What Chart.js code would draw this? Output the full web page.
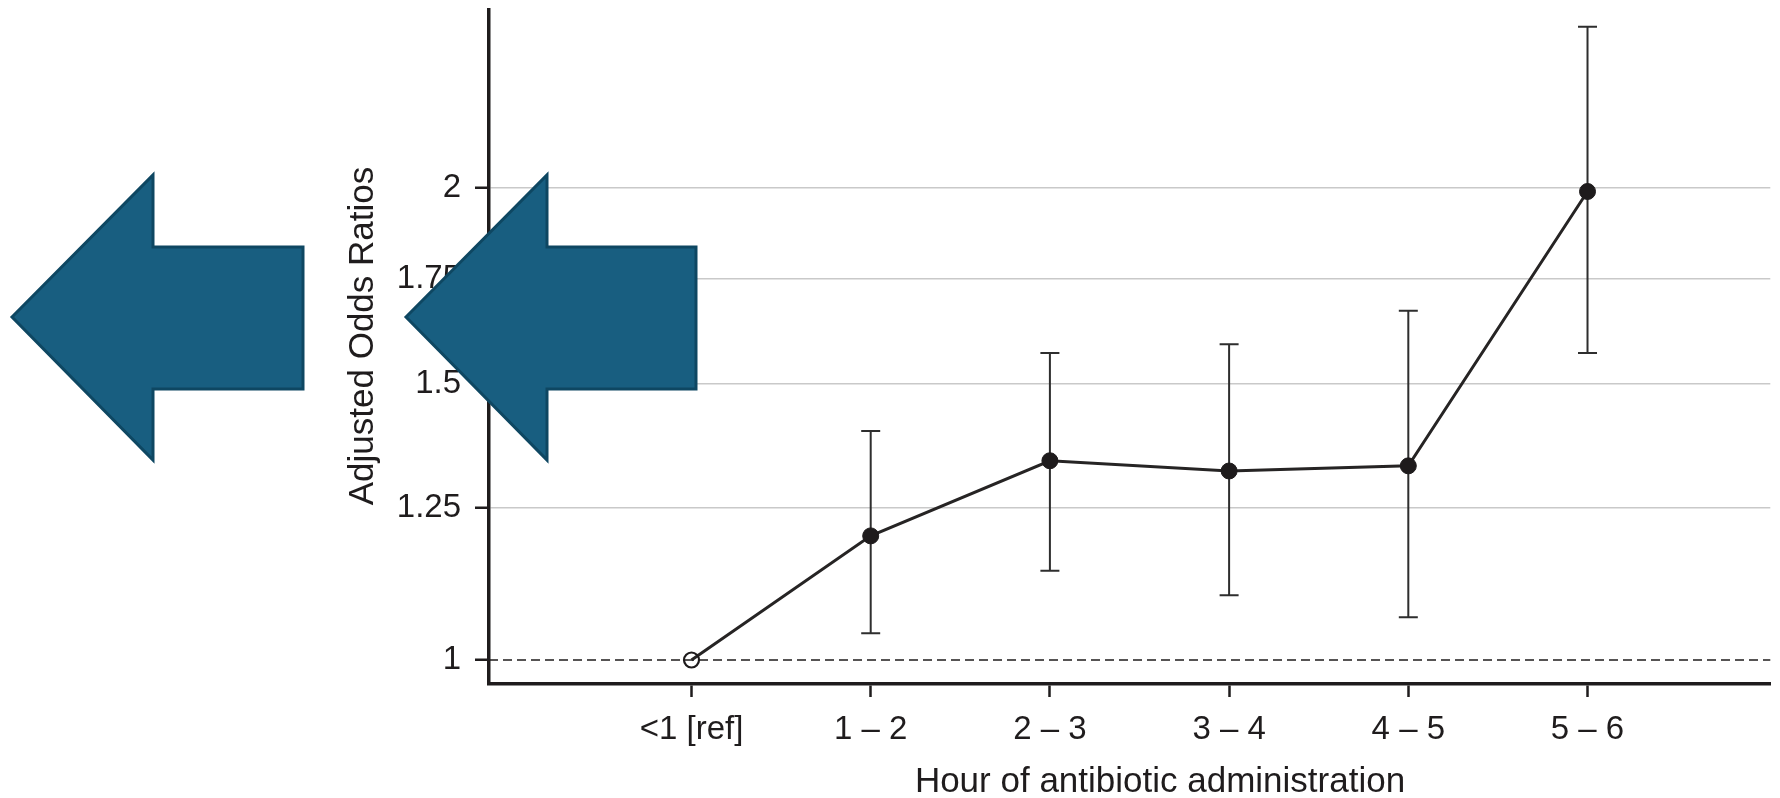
<!DOCTYPE html>
<html>
<head>
<meta charset="utf-8">
<title>Adjusted Odds Ratios by hour of antibiotic administration</title>
<script src="https://cdn.jsdelivr.net/npm/chart.js@4.4.1/dist/chart.umd.min.js"></script>
<style>
  html, body { margin: 0; padding: 0; background: #fff; overflow: hidden; }
  .chart-box { position: relative; width: 1780px; height: 798px; }
</style>
</head>
<body>
<div class="chart-box"><canvas id="oddsChart"></canvas></div>
<script>
const hours = ['<1 [ref]', '1 – 2', '2 – 3', '3 – 4', '4 – 5', '5 – 6'];
const oddsRatios = [1, 1.2, 1.34, 1.32, 1.33, 1.99];
const ciLower = [null, 1.04, 1.14, 1.1, 1.065, 1.57];
const ciUpper = [null, 1.4, 1.57, 1.59, 1.67, 2.535];
const yTicks = [1, 1.25, 1.5, 1.75, 2];

const INK = '#1f1c1d';
const FONT = "'Liberation Sans', Arial, sans-serif";

// whiskers and the dashed OR = 1 line, under the points
const errorBars = {
  id: 'errorBars',
  beforeDatasetsDraw(chart) {
    const { ctx, chartArea, scales: { x, y } } = chart;
    ctx.save();
    const y1 = y.getPixelForValue(1);
    ctx.strokeStyle = INK;
    ctx.lineWidth = 1.5;
    ctx.setLineDash([9, 5]);
    ctx.beginPath();
    ctx.moveTo(chartArea.left, y1);
    ctx.lineTo(chartArea.right, y1);
    ctx.stroke();
    ctx.setLineDash([]);

    ctx.strokeStyle = '#2e2e2e';
    ctx.lineWidth = 2;
    hours.forEach((_, i) => {
      if (ciLower[i] == null) return;
      const px = x.getPixelForValue(i);
      const lo = y.getPixelForValue(ciLower[i]);
      const hi = y.getPixelForValue(ciUpper[i]);
      ctx.beginPath();
      ctx.moveTo(px, lo);
      ctx.lineTo(px, hi);
      ctx.moveTo(px - 9.5, lo);
      ctx.lineTo(px + 9.5, lo);
      ctx.moveTo(px - 9.5, hi);
      ctx.lineTo(px + 9.5, hi);
      ctx.stroke();
    });
    ctx.restore();
  },
};

const axisTitles = {
  id: 'axisTitles',
  afterDraw(chart) {
    const { ctx } = chart;
    ctx.save();
    ctx.fillStyle = INK;
    ctx.font = `35px ${FONT}`;
    ctx.textAlign = 'center';
    ctx.textBaseline = 'alphabetic';
    ctx.fillText('Hour of antibiotic administration', 1160, 792);
    ctx.translate(373, 336);
    ctx.rotate(-Math.PI / 2);
    ctx.fillText('Adjusted Odds Ratios', 0, 0);
    ctx.restore();
  },
};

// the two blue arrows pasted over the left side
const arrows = {
  id: 'arrows',
  afterDraw(chart) {
    const { ctx } = chart;
    const shapes = [
      { tip: 12, head: 153, tail: 303 },
      { tip: 406, head: 547, tail: 696 },
    ];
    ctx.save();
    ctx.fillStyle = '#185e80';
    ctx.strokeStyle = '#0e4762';
    ctx.lineWidth = 3;
    ctx.lineJoin = 'miter';
    shapes.forEach((a) => {
      ctx.beginPath();
      ctx.moveTo(a.tip, 317);
      ctx.lineTo(a.head, 175);
      ctx.lineTo(a.head, 247);
      ctx.lineTo(a.tail, 247);
      ctx.lineTo(a.tail, 389);
      ctx.lineTo(a.head, 389);
      ctx.lineTo(a.head, 460);
      ctx.closePath();
      ctx.fill();
      ctx.stroke();
    });
    ctx.restore();
  },
};

new Chart(document.getElementById('oddsChart'), {
  type: 'line',
  data: {
    datasets: [
      {
        data: oddsRatios.map((v, i) => ({ x: i, y: v })),
        borderColor: '#262424',
        borderWidth: 3,
        tension: 0,
        pointRadius: oddsRatios.map((_, i) => (i === 0 ? 7.5 : 8)),
        pointBorderWidth: oddsRatios.map((_, i) => (i === 0 ? 2.2 : 1)),
        pointBackgroundColor: oddsRatios.map((_, i) => (i === 0 ? 'rgba(0,0,0,0)' : '#1e1b1c')),
        pointBorderColor: '#1e1b1c',
        clip: false,
      },
    ],
  },
  options: {
    responsive: true,
    maintainAspectRatio: false,
    animation: false,
    events: [],
    layout: { padding: { top: 8, left: 0, right: 0, bottom: 0 } },
    plugins: { legend: { display: false }, tooltip: { enabled: false } },
    scales: {
      x: {
        type: 'linear',
        min: -1.13,
        max: 6.02,
        afterBuildTicks: (scale) => {
          scale.ticks = hours.map((_, i) => ({ value: i }));
        },
        afterFit: (scale) => {
          scale.height = 114;
          scale.paddingLeft = 0;
          scale.paddingRight = 0;
        },
        ticks: {
          callback: (value) => hours[value],
          font: { family: FONT, size: 33 },
          color: INK,
          padding: 13,
          maxRotation: 0,
          autoSkip: false,
        },
        grid: { drawOnChartArea: false, tickLength: 13, tickWidth: 2.5, tickColor: INK },
        border: { color: INK, width: 3.5 },
      },
      y: {
        type: 'logarithmic',
        min: 0.9654,
        max: 2.599,
        afterBuildTicks: (scale) => {
          scale.ticks = yTicks.map((v) => ({ value: v }));
        },
        afterFit: (scale) => {
          scale.width = 489;
          scale.paddingTop = 0;
          scale.paddingBottom = 0;
        },
        ticks: {
          callback: (value) => String(value),
          font: { family: FONT, size: 33 },
          color: INK,
          padding: 14,
        },
        grid: {
          color: (c) => (c.tick && c.tick.value === 1 ? 'rgba(0,0,0,0)' : '#c9c9c9'),
          lineWidth: 1.5,
          tickLength: 14,
          tickWidth: 2.5,
          tickColor: INK,
        },
        border: { color: INK, width: 3.5 },
      },
    },
  },
  plugins: [errorBars, axisTitles, arrows],
});
</script>
</body>
</html>
